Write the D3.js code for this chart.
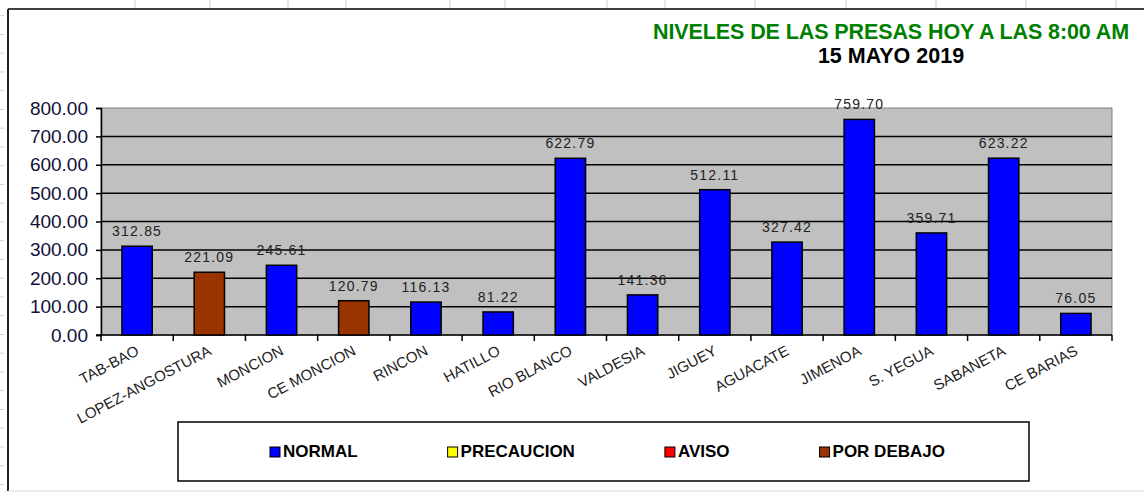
<!DOCTYPE html>
<meta charset="utf-8">
<script src="https://d3js.org/d3.v7.js"></script>
<style type="text/css">
  body { margin: 0; background: #fff; }
  svg text { font-family: "Liberation Sans", Arial, sans-serif; }
</style>
<div id="chart"></div>
<script>
// presas, valores a las 8:00 am
const categories = ["TAB-BAO", "LOPEZ-ANGOSTURA", "MONCION", "CE MONCION", "RINCON", "HATILLO",
  "RIO BLANCO", "VALDESIA", "JIGUEY", "AGUACATE", "JIMENOA", "S. YEGUA", "SABANETA", "CE BARIAS"];
const values = [312.85, 221.09, 245.61, 120.79, 116.13, 81.22, 622.79, 141.36, 512.11, 327.42,
  759.70, 359.71, 623.22, 76.05];
const estados = ["NORMAL", "POR DEBAJO", "NORMAL", "POR DEBAJO", "NORMAL", "NORMAL", "NORMAL",
  "NORMAL", "NORMAL", "NORMAL", "NORMAL", "NORMAL", "NORMAL", "NORMAL"];
const legendLabels = ["NORMAL", "PRECAUCION", "AVISO", "POR DEBAJO"];
const legendColors = ["#0000FF", "#FFFF00", "#FF0000", "#993300"];
const yTicks = [0, 100, 200, 300, 400, 500, 600, 700, 800];

const W = 1144, H = 492;
const plot = {left: 101, right: 1112, top: 108, bottom: 335};

const svg = d3.select("#chart").append("svg")
  .attr("width", W).attr("height", H);

// hoja de calculo de fondo (marcas de celdas)
svg.append("g").selectAll("line")
  .data([135, 210, 288, 346, 450, 505, 607, 665, 755, 846, 936, 1026, 1116])
  .enter().append("line")
  .attr("x1", d => d).attr("x2", d => d).attr("y1", 0).attr("y2", 8)
  .attr("stroke", "#c8d0e0").attr("stroke-width", 1);
svg.append("g").selectAll("line")
  .data(d3.range(15.7, 490, 18.75))
  .enter().append("line")
  .attr("x1", 0).attr("x2", 4).attr("y1", d => d).attr("y2", d => d)
  .attr("stroke", "#c8d0e0").attr("stroke-width", 1);

// marco del grafico
svg.append("line").attr("x1", 8).attr("x2", W).attr("y1", 9).attr("y2", 9)
  .attr("stroke", "#404040").attr("stroke-width", 2);
svg.append("line").attr("x1", 8).attr("x2", 8).attr("y1", 9).attr("y2", 491)
  .attr("stroke", "#202020").attr("stroke-width", 2);
svg.append("line").attr("x1", 8).attr("x2", W).attr("y1", 491).attr("y2", 491)
  .attr("stroke", "#d8d8d8").attr("stroke-width", 1);

// titulo
svg.append("text").attr("x", 891).attr("y", 39)
  .attr("text-anchor", "middle").attr("font-size", 21.5).attr("font-weight", "bold")
  .attr("letter-spacing", -0.1).attr("fill", "#008000")
  .text("NIVELES DE LAS PRESAS HOY A LAS 8:00 AM");
svg.append("text").attr("x", 891).attr("y", 63)
  .attr("text-anchor", "middle").attr("font-size", 21.5).attr("font-weight", "bold")
  .attr("fill", "#000").text("15 MAYO 2019");

// escalas
const x = d3.scaleBand().domain(categories)
  .range([plot.left, plot.right]).paddingInner(0.58).paddingOuter(0.29);
const y = d3.scaleLinear().domain([0, 800]).range([plot.bottom, plot.top]);
const color = d3.scaleOrdinal().domain(legendLabels).range(legendColors);

// area de trazado
svg.append("rect")
  .attr("x", plot.left).attr("y", plot.top)
  .attr("width", plot.right - plot.left).attr("height", plot.bottom - plot.top)
  .attr("fill", "#C0C0C0").attr("stroke", "#808080").attr("stroke-width", 1);

// lineas de division
svg.append("g").selectAll("line")
  .data(yTicks.filter(d => d > 0 && d < 800))
  .enter().append("line")
  .attr("x1", plot.left).attr("x2", plot.right)
  .attr("y1", d => y(d)).attr("y2", d => y(d))
  .attr("stroke", "#000").attr("stroke-width", 1.5);

// eje Y
const yAxis = svg.append("g").attr("transform", `translate(${plot.left},0)`)
  .call(d3.axisLeft(y).tickValues(yTicks).tickFormat(d3.format(".2f")).tickSize(5).tickPadding(8));
yAxis.select(".domain").attr("stroke", "#000").attr("stroke-width", 1.5);
yAxis.selectAll(".tick line").attr("stroke", "#000").attr("stroke-width", 1.5);
yAxis.selectAll(".tick text").attr("font-size", 19).attr("fill", "#10103a")
  .attr("font-family", "Liberation Sans, Arial, sans-serif");

// eje X: linea y marcas en los limites de categoria
svg.append("line").attr("x1", plot.left - 5).attr("x2", plot.right)
  .attr("y1", plot.bottom).attr("y2", plot.bottom)
  .attr("stroke", "#000").attr("stroke-width", 1.5);
const step = x.step();
svg.append("g").selectAll("line")
  .data(d3.range(categories.length + 1))
  .enter().append("line")
  .attr("x1", i => plot.left + i * step).attr("x2", i => plot.left + i * step)
  .attr("y1", plot.bottom).attr("y2", plot.bottom + 6)
  .attr("stroke", "#000").attr("stroke-width", 1.5);

// barras
svg.append("g").selectAll("rect")
  .data(values)
  .enter().append("rect")
  .attr("x", (d, i) => x(categories[i]))
  .attr("y", d => y(d))
  .attr("width", x.bandwidth())
  .attr("height", d => plot.bottom - y(d))
  .attr("fill", (d, i) => color(estados[i]))
  .attr("stroke", "#000").attr("stroke-width", 1.5);

// etiquetas de datos
svg.append("g").selectAll("text")
  .data(values)
  .enter().append("text")
  .attr("x", (d, i) => x(categories[i]) + x.bandwidth() / 2)
  .attr("y", d => y(d) - 10)
  .attr("text-anchor", "middle").attr("font-size", 14).attr("letter-spacing", 1.2)
  .attr("fill", "#222")
  .text(d => d3.format(".2f")(d));

// etiquetas de categoria
svg.append("g").selectAll("text")
  .data(categories)
  .enter().append("text")
  .attr("transform", d => `translate(${x(d) + x.bandwidth() / 2 + 3},${plot.bottom + 19}) rotate(-28)`)
  .attr("text-anchor", "end").attr("font-size", 15)
  .attr("fill", "#222")
  .text(d => d);

// leyenda
svg.append("rect").attr("x", 178).attr("y", 422).attr("width", 851).attr("height", 59)
  .attr("fill", "#fff").attr("stroke", "#000").attr("stroke-width", 1.5);
let lx = 270;
legendLabels.forEach((lab, i) => {
  const g = svg.append("g");
  g.append("rect").attr("x", lx).attr("y", 447).attr("width", 10).attr("height", 10)
    .attr("fill", legendColors[i]).attr("stroke", "#000").attr("stroke-width", 1);
  const t = g.append("text").attr("x", lx + 13).attr("y", 457)
    .attr("font-size", 17).attr("font-weight", "bold").attr("fill", "#000").text(lab);
  lx += 13 + t.node().getComputedTextLength() + 90;
});
</script>
